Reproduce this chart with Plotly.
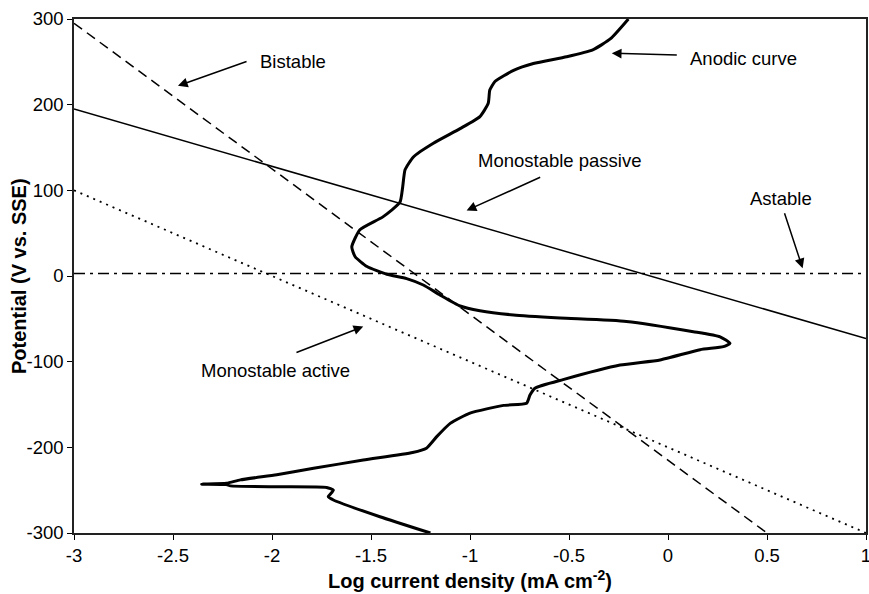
import plotly.graph_objects as go

# Anodic polarisation curve (log current density, potential in mV vs. SSE)
anodic_x = [-1.20, -1.455, -1.69, -1.716, -1.707, -1.69, -1.724, -1.96, -2.21, -2.23,
            -2.355, -2.23, -2.16, -1.976, -1.79, -1.539, -1.29, -1.22, -1.168, -1.10,
            -1.00, -0.83, -0.714, -0.697, -0.672, -0.53, -0.242, -0.04, 0.162, 0.28,
            0.313, 0.263, 0.128, -0.21, -0.545, -0.78, -0.95, -1.05, -1.152, -1.236,
            -1.32, -1.42, -1.52, -1.58, -1.597, -1.556, -1.44, -1.354, -1.34, -1.328,
            -1.286, -1.185, -1.05, -0.95, -0.908, -0.90, -0.874, -0.78, -0.68, -0.512,
            -0.38, -0.29, -0.20]
anodic_y = [-300, -281, -261.5, -257.5, -255, -250, -246.8, -246, -245, -243.5,
            -243, -242, -238, -232, -224.5, -214.8, -206, -201, -187.5, -172,
            -160, -151, -148.5, -139, -131, -121, -104, -98, -86, -82.5,
            -78.6, -71, -65, -53, -49, -45.5, -40.5, -35, -22, -10.5,
            -3, 2, 11, 22.5, 34, 54, 69, 86, 104, 124,
            139, 155, 172, 186, 201.6, 217, 227, 240, 248, 256,
            264, 277, 300]

# Cathodic load lines
bistable_x = [-3, 0.5]
bistable_y = [295, -300]
passive_x = [-3, 1]
passive_y = [195, -73]
active_x = [-3, 1]
active_y = [100, -300]
astable_x = [-3, 1]
astable_y = [3, 3]

x_tickvals = [-3, -2.5, -2, -1.5, -1, -0.5, 0, 0.5, 1]
x_ticktext = ["-3", "-2.5", "-2", "-1.5", "-1", "-0.5", "0", "0.5", "1"]
y_tickvals = [-300, -200, -100, 0, 100, 200, 300]
y_ticktext = ["-300", "-200", "-100", "0", "100", "200", "300"]

FONT = "Arial, Liberation Sans, sans-serif"

fig = go.Figure()
fig.add_trace(go.Scatter(x=bistable_x, y=bistable_y, mode="lines",
                         line=dict(color="black", width=1.5, dash="10px,6px")))
fig.add_trace(go.Scatter(x=passive_x, y=passive_y, mode="lines",
                         line=dict(color="black", width=1.5)))
fig.add_trace(go.Scatter(x=active_x, y=active_y, mode="lines",
                         line=dict(color="black", width=1.8, dash="2px,5px")))
fig.add_trace(go.Scatter(x=astable_x, y=astable_y, mode="lines",
                         line=dict(color="black", width=1.5, dash="11px,5px,3px,5px")))
fig.add_trace(go.Scatter(x=anodic_x, y=anodic_y, mode="lines",
                         line=dict(color="black", width=3, shape="spline", smoothing=0.5)))

# label text and arrow (tip, tail) for each curve
labels = [
    ("Bistable", -1.894, 250, (-2.475, 222), (-2.121, 251)),
    ("Monostable passive", -0.545, 135, (-1.017, 76.5), (-0.638, 116)),
    ("Astable", 0.571, 91, (0.680, 9), (0.586, 75)),
    ("Anodic curve", 0.379, 254, (-0.284, 260), (0.052, 258)),
    ("Monostable active", -1.98, -110, (-1.539, -59), (-1.884, -90)),
]
for text, tx, ty, tip, tail in labels:
    fig.add_annotation(x=tx, y=ty, text=text, showarrow=False,
                       font=dict(family=FONT, size=18.5, color="black"))
    fig.add_annotation(x=tip[0], y=tip[1], ax=tail[0], ay=tail[1], axref="x", ayref="y",
                       text="", showarrow=True, arrowhead=2, arrowsize=1.3,
                       arrowwidth=1.5, arrowcolor="black")

# y-axis title placed close against the tick labels
fig.add_annotation(xref="paper", yref="paper", x=-0.0694, y=0.5,
                   xanchor="center", yanchor="middle", textangle=-90, showarrow=False,
                   text="<b>Potential (V vs. SSE)</b>",
                   font=dict(family=FONT, size=20, color="black"))

fig.update_layout(
    width=869, height=594, autosize=False,
    margin=dict(l=74, r=3, t=19, b=61),
    paper_bgcolor="white", plot_bgcolor="white",
    showlegend=False,
    font=dict(family=FONT, color="black"),
)
fig.update_xaxes(
    range=[-3, 1], tickvals=x_tickvals, ticktext=x_ticktext,
    showgrid=False, zeroline=False, showline=True, linecolor="#222222", linewidth=1.5,
    mirror=True,
    ticks="outside", ticklen=5, tickwidth=1.2, tickcolor="black",
    ticklabeloverflow="allow", automargin=False,
    tickfont=dict(family=FONT, size=18.5),
    title=dict(text="<b>Log current density (mA cm<sup>-2</sup>)</b>",
               font=dict(family=FONT, size=20), standoff=9),
)
fig.update_yaxes(
    range=[-300, 300], tickvals=y_tickvals, ticktext=y_ticktext,
    showgrid=False, zeroline=False, showline=True, linecolor="#222222", linewidth=1.5,
    mirror=True,
    ticks="outside", ticklen=5, tickwidth=1.2, tickcolor="black",
    automargin=False,
    tickfont=dict(family=FONT, size=18.5),
)

fig.write_html("out.html")
